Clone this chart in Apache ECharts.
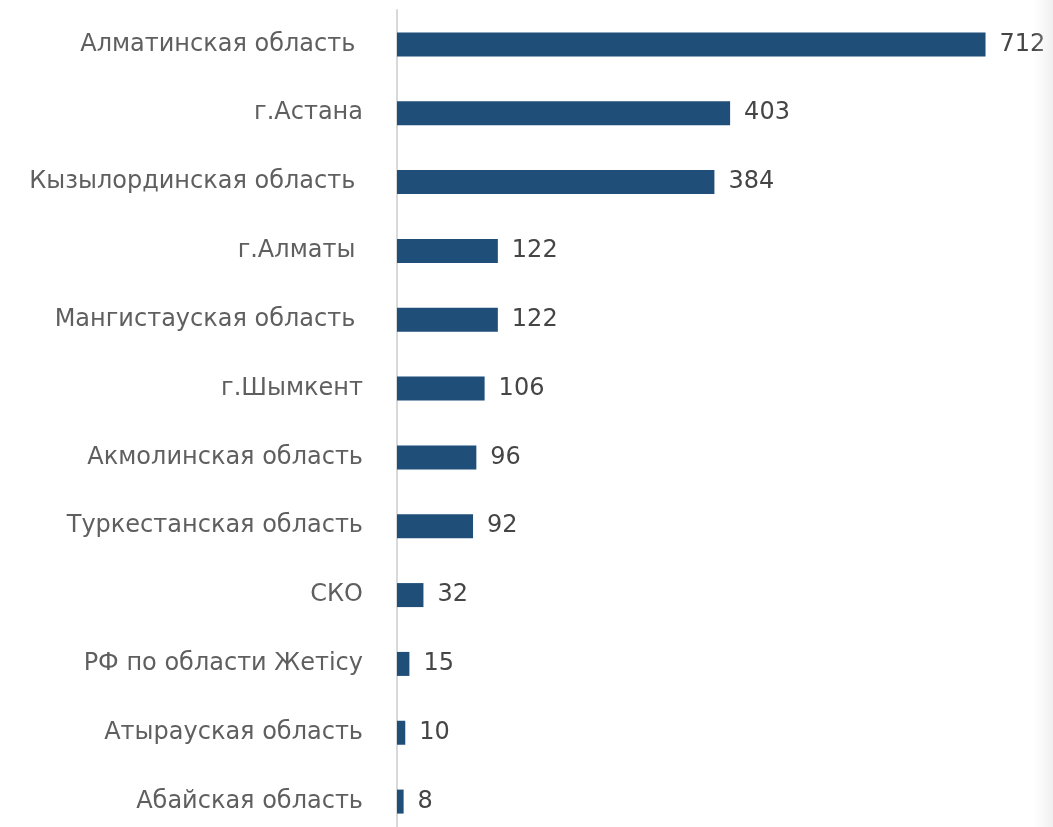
<!DOCTYPE html>
<html>
<head>
<meta charset="utf-8">
<script src="https://cdn.jsdelivr.net/npm/echarts@6/dist/echarts.min.js"></script>
<style>
html,body{margin:0;padding:0;background:#fff;}
#c{width:1053px;height:827px;}
</style>
</head>
<body>
<div id="c"></div>
<script>
const categories = [
  "Алматинская область ",
  "г.Астана",
  "Кызылординская область ",
  "г.Алматы ",
  "Мангистауская область ",
  "г.Шымкент",
  "Акмолинская область",
  "Туркестанская область",
  "СКО",
  "РФ по области Жетісу",
  "Атырауская область",
  "Абайская область"
];
const values = [712, 403, 384, 122, 122, 106, 96, 92, 32, 15, 10, 8];

const chart = echarts.init(document.getElementById('c'));
chart.setOption({
  animation: false,
  backgroundColor: '#ffffff',
  grid: { left: 397, right: 3, top: 10, bottom: -9, containLabel: false, outerBoundsMode: 'none' },
  xAxis: {
    type: 'value', min: 0, max: 790, show: false
  },
  yAxis: {
    type: 'category', data: categories, inverse: true,
    axisLine: { show: true, lineStyle: { color: '#d9d9d9', width: 2 } },
    axisTick: { show: false },
    axisLabel: {
      margin: 34, fontSize: 24, color: '#5f5f5f',
      fontFamily: 'DejaVu Sans'
    }
  },
  series: [{
    type: 'bar', data: values, barWidth: 24,
    itemStyle: { color: '#1f4e79' },
    label: {
      show: true, position: 'right', distance: 14,
      fontSize: 24, color: '#454545', fontFamily: 'DejaVu Sans'
    }
  }],
  graphic: [{
    type: 'rect', left: 1033, top: 0, z: 100, silent: true,
    shape: { width: 20, height: 827 },
    style: {
      fill: new echarts.graphic.LinearGradient(0, 0, 1, 0, [
        { offset: 0, color: 'rgba(230,230,230,0)' },
        { offset: 1, color: 'rgba(225,225,225,0.5)' }
      ])
    }
  }]
});
</script>
</body>
</html>
